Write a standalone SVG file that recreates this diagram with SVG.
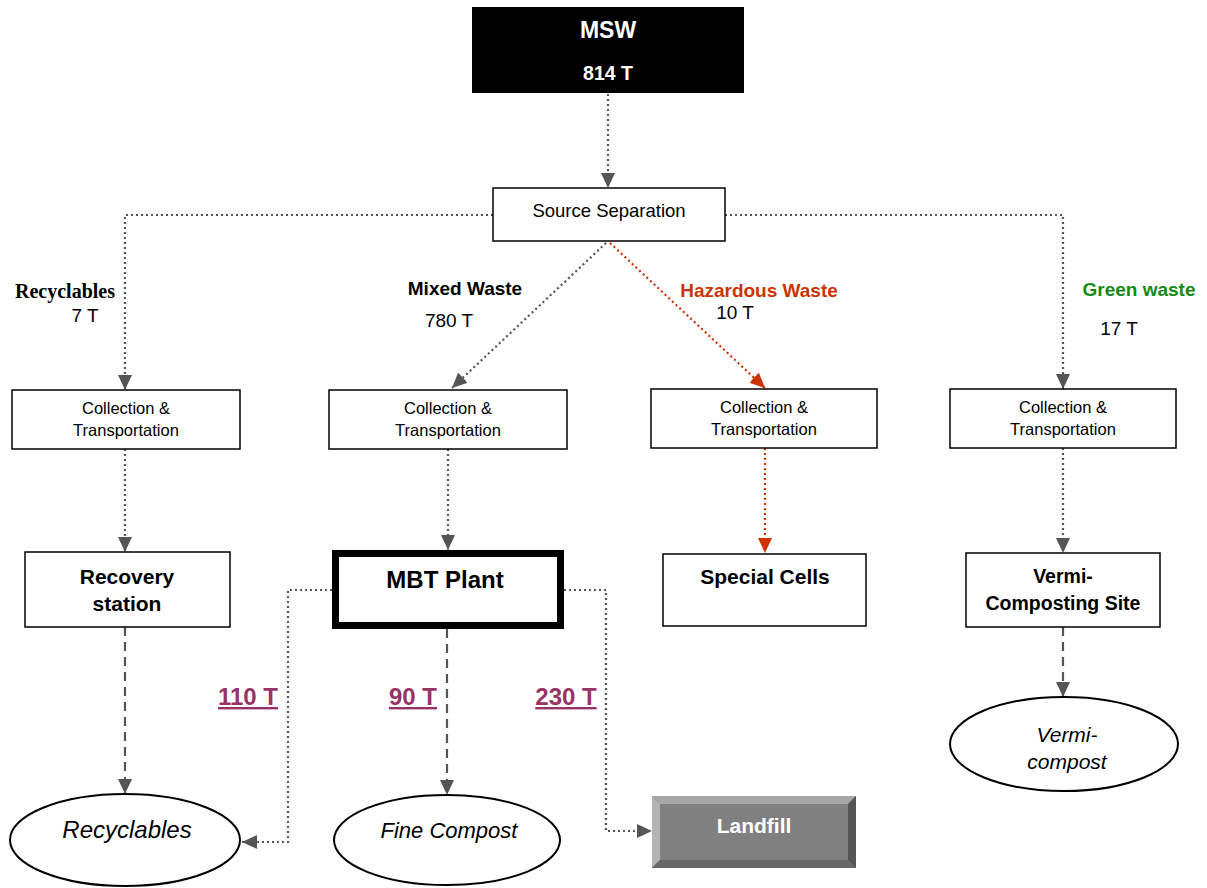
<svg xmlns="http://www.w3.org/2000/svg" width="1207" height="888" viewBox="0 0 1207 888">
<style>
.box{fill:#fff;stroke:#000;stroke-width:1.5}
.t{font-family:"Liberation Sans",Arial,sans-serif;text-anchor:middle}
.b{font-weight:bold}
.i{font-style:italic}
.dot{fill:none;stroke:#555;stroke-width:2.2;stroke-dasharray:2,3}
.dotr{fill:none;stroke:#cc3300;stroke-width:2.2;stroke-dasharray:2,3}
.dash{fill:none;stroke:#555;stroke-width:2.2;stroke-dasharray:9,6}
.num{font-family:"Liberation Sans",Arial,sans-serif;font-weight:bold;font-size:24px;fill:#993366;text-anchor:middle;text-decoration:underline}
</style>
<defs>
<marker id="ag" markerUnits="userSpaceOnUse" markerWidth="16" markerHeight="14" refX="15" refY="7" orient="auto"><path d="M0,0 L15,7 L0,14 z" fill="#555"/></marker>
<marker id="ar" markerUnits="userSpaceOnUse" markerWidth="16" markerHeight="14" refX="15" refY="7" orient="auto"><path d="M0,0 L15,7 L0,14 z" fill="#cc3300"/></marker>
</defs>
<rect width="1207" height="888" fill="#fff"/>

<g id="connectors">
<path class="dot" d="M608,94 V188" marker-end="url(#ag)"/>
<path class="dot" d="M493,215 H125 V390" marker-end="url(#ag)"/>
<path class="dot" d="M725,215 H1063 V389" marker-end="url(#ag)"/>
<path class="dot" d="M606,243 L452,388" marker-end="url(#ag)"/>
<path class="dotr" d="M610,243 L765,388" marker-end="url(#ar)"/>
<path class="dot" d="M125,449 V552" marker-end="url(#ag)"/>
<path class="dot" d="M448,449 V550" marker-end="url(#ag)"/>
<path class="dotr" d="M765,448 V553" marker-end="url(#ar)"/>
<path class="dot" d="M1063,448 V553" marker-end="url(#ag)"/>
<path class="dash" d="M125,627 V794" marker-end="url(#ag)"/>
<path class="dash" d="M447,629 V795" marker-end="url(#ag)"/>
<path class="dash" d="M1063,627 V697" marker-end="url(#ag)"/>
<path class="dot" d="M332,590 H288 V842 H242" marker-end="url(#ag)"/>
<path class="dot" d="M564,590 H606 V831 H652" marker-end="url(#ag)"/>
</g>

<g id="labels">
<text x="65" y="298" font-family="Liberation Serif,Times New Roman,serif" font-weight="bold" font-size="20" text-anchor="middle">Recyclables</text>
<text class="t" x="85" y="322" font-size="19">7 T</text>
<text class="t b" x="465" y="295" font-size="19">Mixed Waste</text>
<text class="t" x="449" y="327" font-size="19">780 T</text>
<text class="t b" x="759" y="297" font-size="19" fill="#cc3300">Hazardous Waste</text>
<text class="t" x="735" y="319" font-size="19">10 T</text>
<text class="t b" x="1139" y="296" font-size="19" fill="#138a13">Green waste</text>
<text class="t" x="1119" y="335" font-size="19">17 T</text>
<text class="num" x="248" y="705">110 T</text>
<text class="num" x="413" y="705">90 T</text>
<text class="num" x="566" y="705">230 T</text>
</g>

<g id="msw">
<rect x="472" y="7" width="272" height="86" fill="#000"/>
<text class="t b" x="608" y="38" font-size="23" fill="#fff">MSW</text>
<text class="t b" x="608" y="80" font-size="19.5" fill="#fff">814 T</text>
</g>

<g id="source-separation">
<rect class="box" x="493" y="188" width="232" height="53"/>
<text class="t" x="609" y="217" font-size="18.5">Source Separation</text>
</g>

<g id="collection-1">
<rect class="box" x="12" y="390" width="228" height="59"/>
<text class="t" x="126" y="414" font-size="16.5">Collection &amp;</text>
<text class="t" x="126" y="436" font-size="16.5">Transportation</text>
</g>
<g id="collection-2">
<rect class="box" x="329" y="390" width="238" height="59"/>
<text class="t" x="448" y="414" font-size="16.5">Collection &amp;</text>
<text class="t" x="448" y="436" font-size="16.5">Transportation</text>
</g>
<g id="collection-3">
<rect class="box" x="651" y="389" width="226" height="59"/>
<text class="t" x="764" y="413" font-size="16.5">Collection &amp;</text>
<text class="t" x="764" y="435" font-size="16.5">Transportation</text>
</g>
<g id="collection-4">
<rect class="box" x="950" y="389" width="226" height="59"/>
<text class="t" x="1063" y="413" font-size="16.5">Collection &amp;</text>
<text class="t" x="1063" y="435" font-size="16.5">Transportation</text>
</g>

<g id="recovery-station">
<rect class="box" x="25" y="552" width="205" height="75"/>
<text class="t b" x="127" y="584" font-size="21">Recovery</text>
<text class="t b" x="127" y="611" font-size="21">station</text>
</g>
<g id="mbt-plant">
<rect x="335.5" y="553.5" width="225" height="72" fill="#fff" stroke="#000" stroke-width="7"/>
<text class="t b" x="445" y="588" font-size="24">MBT Plant</text>
</g>
<g id="special-cells">
<rect class="box" x="663" y="554" width="203" height="72"/>
<text class="t b" x="765" y="584" font-size="21">Special Cells</text>
</g>
<g id="vermi-site">
<rect class="box" x="966" y="553" width="194" height="74"/>
<text class="t b" x="1063" y="583" font-size="19.5">Vermi-</text>
<text class="t b" x="1063" y="610" font-size="19.5">Composting Site</text>
</g>

<g id="recyclables">
<ellipse cx="125" cy="840" rx="115" ry="46" fill="#fff" stroke="#000" stroke-width="2"/>
<text class="t i" x="127" y="838" font-size="24">Recyclables</text>
</g>
<g id="fine-compost">
<ellipse cx="447" cy="840" rx="113" ry="45" fill="#fff" stroke="#000" stroke-width="2"/>
<text class="t i" x="449" y="838" font-size="22">Fine Compost</text>
</g>
<g id="landfill">
<rect x="652" y="796" width="204" height="72" fill="#808080"/>
<polygon points="652,796 856,796 848,804 660,804" fill="#a6a6a6"/>
<polygon points="652,796 660,804 660,860 652,868" fill="#b3b3b3"/>
<polygon points="856,796 856,868 848,860 848,804" fill="#555"/>
<polygon points="652,868 660,860 848,860 856,868" fill="#666"/>
<text class="t b" x="754" y="833" font-size="21" fill="#fff">Landfill</text>
</g>
<g id="vermicompost">
<ellipse cx="1064" cy="744" rx="114" ry="47" fill="#fff" stroke="#000" stroke-width="2"/>
<text class="t i" x="1067" y="742" font-size="21">Vermi-</text>
<text class="t i" x="1067" y="769" font-size="21">compost</text>
</g>
</svg>
